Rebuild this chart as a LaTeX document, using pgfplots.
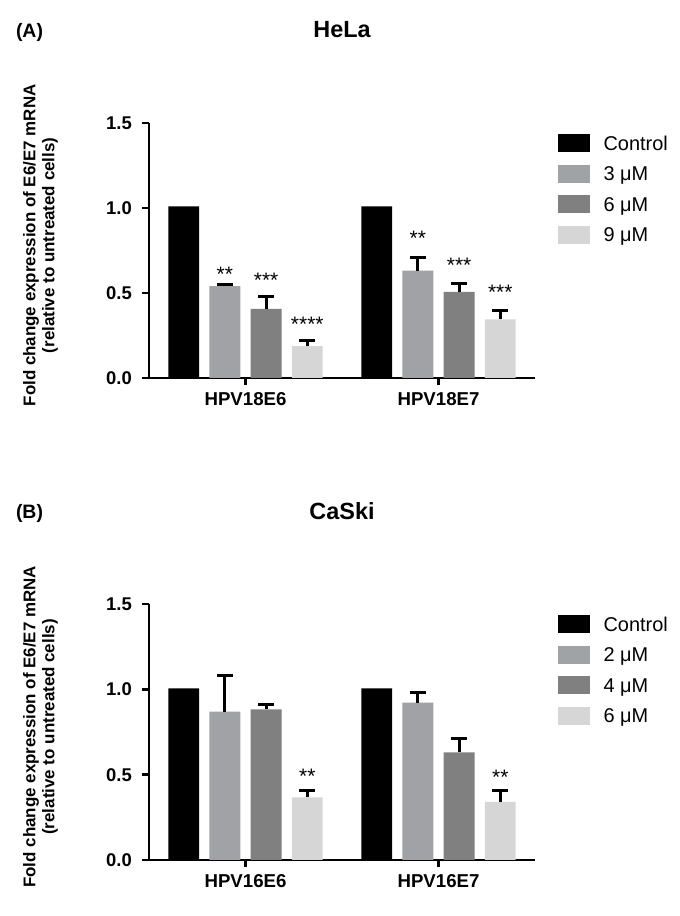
\documentclass[border=0pt]{standalone}
\usepackage{fontspec}
\setmainfont{Liberation Sans}
\usepackage{pgfplots}
\pgfplotsset{compat=1.18}
\definecolor{cA}{RGB}{161,162,166}
\definecolor{cB}{RGB}{128,128,128}
\definecolor{cC}{RGB}{214,214,214}
\pgfplotsset{
 panel/.style={
  scale only axis, width=386bp,
  xmin=-0.5, xmax=1.5, ymin=0, ymax=1.5,
  axis x line=bottom, axis y line=left,
  axis line style={line width=2.8bp, -},
  tick align=outside, major tick length=7bp,
  major tick style={line width=2.8bp, black},
  xtick={0,1}, ytick={0,0.5,1,1.5},
  yticklabel style={/pgf/number format/.cd, fixed, fixed zerofill, precision=1, assume math mode=true, /tikz/.cd, font=\bfseries\fontsize{18.5}{20}\selectfont, inner sep=0pt, anchor=east, xshift=-10bp},
  xticklabel style={font=\bfseries\fontsize{18.7}{20}\selectfont, inner sep=0pt, anchor=north, yshift=-7bp},
  ylabel style={at={(axis description cs:-0.2811,0.52)}, anchor=center, align=center, font=\bfseries\fontsize{17}{19}\selectfont},
  title style={at={(axis description cs:0.5,1)}, anchor=center, yshift=87bp, inner sep=0pt, font=\bfseries\fontsize{23.5}{24}\selectfont},
  legend style={at={(1.0596,0.964)}, anchor=north west, draw=none, fill=none, inner sep=0pt, row sep=9.6bp, column sep=14bp, nodes={inner sep=0pt, text height=17.65bp, text depth=3.35bp, font=\fontsize{20}{20}\selectfont}},
  legend cell align=left,
  clip=false,
 },
 bar/.style={ybar, bar width=0.16, bar shift=0pt, draw=none, fill=#1},
 err/.style={error bars/.cd, y dir=plus, y explicit, error bar style={line width=3bp, black}, error mark options={rotate=90, line width=3bp, black, mark size=8bp}},
 stars/.style={only marks, mark=*, mark size=0pt, forget plot, nodes near coords, point meta=explicit symbolic, nodes near coords style={anchor=north, inner sep=0pt, font=\fontsize{21}{21}\selectfont, text=black}},
 limg/.style={legend image code/.code={\fill[#1] (0bp,-8.5bp) rectangle (31bp,8.5bp);}},
}
\begin{document}
\begin{tikzpicture}
\useasboundingbox (0,0) rectangle (680bp,916bp);
% ---------------- (A) HeLa
\begin{axis}[panel, height=255bp, at={(149bp,538bp)}, anchor=south west,
  xticklabels={HPV18E6,HPV18E7}, title={HeLa},
  ylabel={Fold change expression of E6/E7 mRNA\\(relative to untreated cells)}]
\addlegendimage{limg=black}\addlegendentry{Control}
\addlegendimage{limg=cA}\addlegendentry{3 μM}
\addlegendimage{limg=cB}\addlegendentry{6 μM}
\addlegendimage{limg=cC}\addlegendentry{9 μM}
\addplot[bar=black, forget plot] coordinates {(-0.32,1.01) (0.68,1.01)};
\addplot[bar=cA, forget plot, err] coordinates {(-0.107,0.541) +- (0,0.011) (0.893,0.631) +- (0,0.080)};
\addplot[bar=cB, forget plot, err] coordinates {(0.107,0.406) +- (0,0.073) (1.107,0.506) +- (0,0.048)};
\addplot[bar=cC, forget plot, err] coordinates {(0.32,0.188) +- (0,0.031) (1.32,0.345) +- (0,0.050)};
\addplot[stars] coordinates {(-0.107,0.655) [**] (0.107,0.616) [***] (0.32,0.361) [****] (0.893,0.867) [**] (1.107,0.704) [***] (1.32,0.548) [***]};
\node[anchor=center, inner sep=0pt, font=\bfseries\fontsize{19.5}{20}\selectfont] at (rel axis cs:-0.3096,1.353) {(A)};
\end{axis}
% ---------------- (B) CaSki
\begin{axis}[panel, height=256bp, at={(149bp,56bp)}, anchor=south west,
  xticklabels={HPV16E6,HPV16E7}, title={CaSki},
  ylabel={Fold change expression of E6/E7 mRNA\\(relative to untreated cells)}]
\addlegendimage{limg=black}\addlegendentry{Control}
\addlegendimage{limg=cA}\addlegendentry{2 μM}
\addlegendimage{limg=cB}\addlegendentry{4 μM}
\addlegendimage{limg=cC}\addlegendentry{6 μM}
\addplot[bar=black, forget plot] coordinates {(-0.32,1.006) (0.68,1.006)};
\addplot[bar=cA, forget plot, err] coordinates {(-0.107,0.870) +- (0,0.209) (0.893,0.922) +- (0,0.059)};
\addplot[bar=cB, forget plot, err] coordinates {(0.107,0.883) +- (0,0.030) (1.107,0.630) +- (0,0.079)};
\addplot[bar=cC, forget plot, err] coordinates {(0.32,0.367) +- (0,0.038) (1.32,0.341) +- (0,0.064)};
\addplot[stars] coordinates {(0.32,0.531) [**] (1.32,0.527) [**]};
\node[anchor=center, inner sep=0pt, font=\bfseries\fontsize{19.5}{20}\selectfont] at (rel axis cs:-0.3096,1.353) {(B)};
\end{axis}
\end{tikzpicture}
\end{document}
